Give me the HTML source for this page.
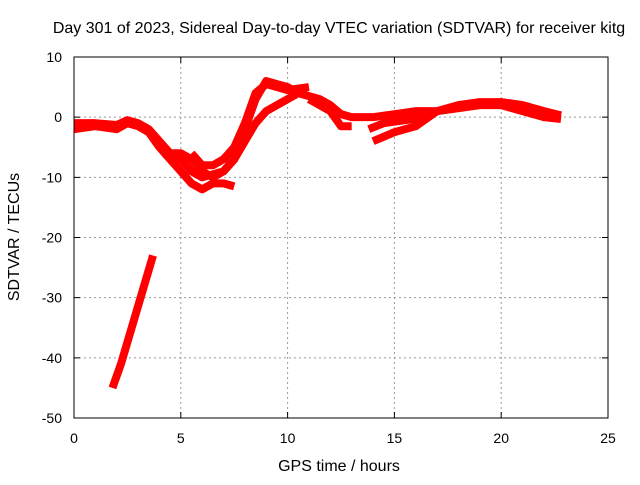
<!DOCTYPE html>
<html><head><meta charset="utf-8"><style>
body{margin:0;background:#fff}
svg text{font-family:"Liberation Sans",sans-serif;font-size:14px;fill:#000}
svg text.big{font-size:16px}
</style></head><body>
<svg id="c" width="640" height="480">
<text class="big" x="339" y="33" text-anchor="middle">Day 301 of 2023, Sidereal Day-to-day VTEC variation (SDTVAR) for receiver kitg</text>
<text class="big" x="339" y="471" text-anchor="middle">GPS time / hours</text>
<text class="big" transform="translate(19,237) rotate(-90)" text-anchor="middle">SDTVAR / TECUs</text>
<g id="grid"></g><g id="marks"></g>
<rect x="74" y="57" width="534" height="361" fill="none" stroke="#000"/>
</svg>
<script>
const xTicks=[0,5,10,15,20,25];
const yTicks=[10,0,-10,-20,-30,-40,-50];
const traceUpper=[[0,-1],[1,-1],[2,-1.3],[2.5,-0.5],[3,-1],[3.5,-2],[4,-4],[4.5,-6],[5,-6],[5.5,-7],[6,-9],[6.5,-10],[7,-9],[7.5,-7],[8,-2],[8.5,3],[9,6],[9.5,5.5],[10,5],[10.5,4],[11,3.5],[11.5,3],[12,2],[12.5,0.5],[13,0],[14,0],[15,0.5],[16,1],[17,1],[18,2],[19,2.5],[20,2.5],[21,2],[22,1],[22.8,0.3]];
const traceLower=[[0,-2],[1,-1.5],[2,-2],[2.5,-1],[3,-1.5],[3.5,-2.5],[4,-5],[4.5,-7],[5,-9],[5.5,-11],[6,-12],[6.5,-11],[7,-11],[7.5,-11.5]];
const traceMid=[[4.5,-6],[5,-7],[5.5,-9],[6,-10],[7,-9],[7.5,-7],[8,-4],[8.5,-1],[9,1],[9.5,2],[10,3],[10.5,4]];
const traceMid2=[[5.5,-6],[6,-8],[6.5,-8],[7,-7],[7.5,-5],[8,-1],[8.5,4],[9,5.5],[10,4.5],[11,5]];
const traceDip=[[11,3],[11.5,2],[12,1],[12.5,-1.5],[13,-1.5]];
const traceLate=[[14,-4],[15,-2.5],[16,-1.5],[17,1],[18,1.5],[19,2],[20,2],[21,1],[22,0],[22.8,-0.3]];
const traceLate2=[[13.8,-2],[14.5,-1],[15.5,-0.5],[16.5,0]];
const traceSteep=[[1.8,-45],[2.2,-41],[2.7,-35],[3.2,-29],[3.7,-23]];
const series=[traceUpper,traceLower,traceMid,traceMid2,traceDip,traceLate,traceLate2,traceSteep];
const X=h=>74+h*534/25, Y=v=>57+(10-v)*361/60;
const ns="http://www.w3.org/2000/svg";
const grid=document.getElementById('grid'), marks=document.getElementById('marks');
xTicks.forEach(t=>{
 const l=document.createElementNS(ns,'line');
 
 
 l.setAttribute('x1',X(t));l.setAttribute('x2',X(t));l.setAttribute('y1',57);l.setAttribute('y2',418);
 l.setAttribute('stroke',(t>0&&t<25)?'#999':'none');l.setAttribute('stroke-dasharray','2,3');grid.appendChild(l);
 const tk=document.createElementNS(ns,'path');
 
 
 tk.setAttribute('d',`M${X(t)},418v-6M${X(t)},57v6`);tk.setAttribute('stroke','#000');grid.appendChild(tk);
 const tx=document.createElementNS(ns,'text');
 
 
 tx.setAttribute('x',X(t));tx.setAttribute('y',443);tx.setAttribute('text-anchor','middle');tx.textContent=t;grid.appendChild(tx);
});
yTicks.forEach(t=>{
 const l=document.createElementNS(ns,'line');
 
 
 l.setAttribute('x1',74);l.setAttribute('x2',608);l.setAttribute('y1',Y(t));l.setAttribute('y2',Y(t));
 l.setAttribute('stroke',(t<10&&t>-50)?'#999':'none');l.setAttribute('stroke-dasharray','2,3');grid.appendChild(l);
 const tk=document.createElementNS(ns,'path');
 
 
 tk.setAttribute('d',`M74,${Y(t)}h6M608,${Y(t)}h-6`);tk.setAttribute('stroke','#000');grid.appendChild(tk);
 const tx=document.createElementNS(ns,'text');
 
 
 tx.setAttribute('x',62);tx.setAttribute('y',Y(t)+5);tx.setAttribute('text-anchor','end');tx.textContent=t;grid.appendChild(tx);
});
series.forEach(s=>{
 const p=document.createElementNS(ns,'polyline');
 
 
 p.setAttribute('points',s.map(d=>X(d[0])+','+Y(d[1])).join(' '));
 p.setAttribute('fill','none');p.setAttribute('stroke','#f00');p.setAttribute('stroke-width','8');
 p.setAttribute('stroke-linejoin','round');marks.appendChild(p);
});
</script>
</body></html>
